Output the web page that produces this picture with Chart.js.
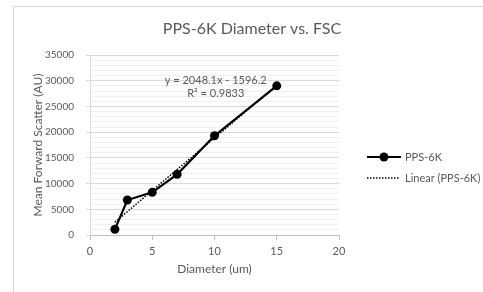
<!DOCTYPE html>
<html>
<head>
<meta charset="utf-8">
<script src="https://cdn.jsdelivr.net/npm/chart.js@4/dist/chart.umd.min.js"></script>
<style>
  html, body { margin: 0; padding: 0; background: #fff; }
  #wrap { width: 483px; height: 292px; position: relative; }
</style>
</head>
<body>
<div id="wrap"><canvas id="chart" width="483" height="292"></canvas></div>
<script>
// data
const diameters = [2, 3, 5, 7, 10, 15];
const forwardScatter = [1100, 6800, 8300, 11800, 19300, 29000];
const trendX = [2, 15];
const trendY = [2500, 29125];
const xTicks = [0, 5, 10, 15, 20];
const yTicks = [0, 5000, 10000, 15000, 20000, 25000, 30000, 35000];

const textColor = '#595959';
const fontFamily = 'Lato, "Open Sans", sans-serif';

// Function to draw the frame, title, equation and legend
const extras = {
    id: 'extras',
    afterDraw(chart) {
        const ctx = chart.ctx;
        const xs = chart.scales.x, ys = chart.scales.y;
        ctx.save();
        ctx.strokeStyle = '#d9d9d9';
        ctx.lineWidth = 1;
        ctx.strokeRect(13.5, 6.5, 490, 300);

        ctx.fillStyle = textColor;
        ctx.textAlign = 'center';
        ctx.textBaseline = 'middle';
        ctx.font = '16px ' + fontFamily;
        ctx.fillText('PPS-6K Diameter vs. FSC', 252, 29);

        // trendline label
        ctx.font = '11px ' + fontFamily;
        const ex = xs.getPixelForValue(10.1);
        ctx.fillText('y = 2048.1x - 1596.2', ex, ys.getPixelForValue(30100));
        ctx.fillText('R\u00b2 = 0.9833', ex, ys.getPixelForValue(27600));

        // legend
        ctx.strokeStyle = '#000';
        ctx.lineWidth = 2.2;
        ctx.beginPath(); ctx.moveTo(367, 157); ctx.lineTo(401, 157); ctx.stroke();
        ctx.fillStyle = '#000';
        ctx.beginPath(); ctx.arc(384, 157, 4.5, 0, Math.PI * 2); ctx.fill();
        ctx.lineWidth = 1.5;
        ctx.setLineDash([1.5, 1.5]);
        ctx.beginPath(); ctx.moveTo(367, 178); ctx.lineTo(399, 178); ctx.stroke();
        ctx.setLineDash([]);
        ctx.fillStyle = textColor;
        ctx.textAlign = 'left';
        ctx.fillText('PPS-6K', 405, 157);
        ctx.fillText('Linear (PPS-6K)', 405, 178);
        ctx.restore();
    }
};

new Chart(document.getElementById('chart'), {
    type: 'scatter',
    data: {
        datasets: [
            {
                label: 'Linear (PPS-6K)',
                data: trendX.map((x, i) => ({ x: x, y: trendY[i] })),
                showLine: true,
                borderColor: '#000',
                borderWidth: 1.5,
                borderDash: [1.5, 1.5],
                pointRadius: 0
            },
            {
                label: 'PPS-6K',
                data: diameters.map((x, i) => ({ x: x, y: forwardScatter[i] })),
                showLine: true,
                borderColor: '#000',
                backgroundColor: '#000',
                borderWidth: 2.2,
                pointRadius: 4.5,
                pointBorderWidth: 0
            }
        ]
    },
    options: {
        responsive: false,
        animation: false,
        layout: { padding: { left: 27, right: 144, top: 55, bottom: 12 } },
        plugins: {
            legend: { display: false },
            title: { display: false },
            tooltip: { enabled: false }
        },
        scales: {
            x: {
                type: 'linear',
                min: 0,
                max: 20,
                afterBuildTicks: s => { s.ticks = xTicks.map(v => ({ value: v })); },
                afterFit: s => { s.height = 45; },
                border: { color: '#bfbfbf' },
                grid: { drawOnChartArea: false, tickLength: 5, color: '#bfbfbf' },
                ticks: { color: textColor, font: { family: fontFamily, size: 11 }, padding: 5, maxRotation: 0 },
                title: { display: true, text: 'Diameter (um)', color: textColor, font: { family: fontFamily, size: 12 }, padding: { top: 1 } }
            },
            y: {
                min: 0,
                max: 35000,
                afterFit: s => { s.width = 63; },
                border: { color: '#d9d9d9' },
                grid: {
                    tickLength: 4,
                    color: c => (c.tick.value % 5000 === 0 ? '#d9d9d9' : '#f0f0f0'),
                    tickColor: c => (c.tick.value % 5000 === 0 ? '#d9d9d9' : 'rgba(0,0,0,0)')
                },
                ticks: {
                    stepSize: 1000,
                    autoSkip: false,
                    color: textColor,
                    font: { family: fontFamily, size: 10 },
                    padding: 12,
                    callback: v => (yTicks.includes(v) ? String(v) : '')
                },
                title: { display: true, text: 'Mean Forward Scatter (AU)', color: textColor, font: { family: fontFamily, size: 12 }, padding: { top: 4, bottom: 0 } }
            }
        }
    },
    plugins: [extras]
});
</script>
</body>
</html>
